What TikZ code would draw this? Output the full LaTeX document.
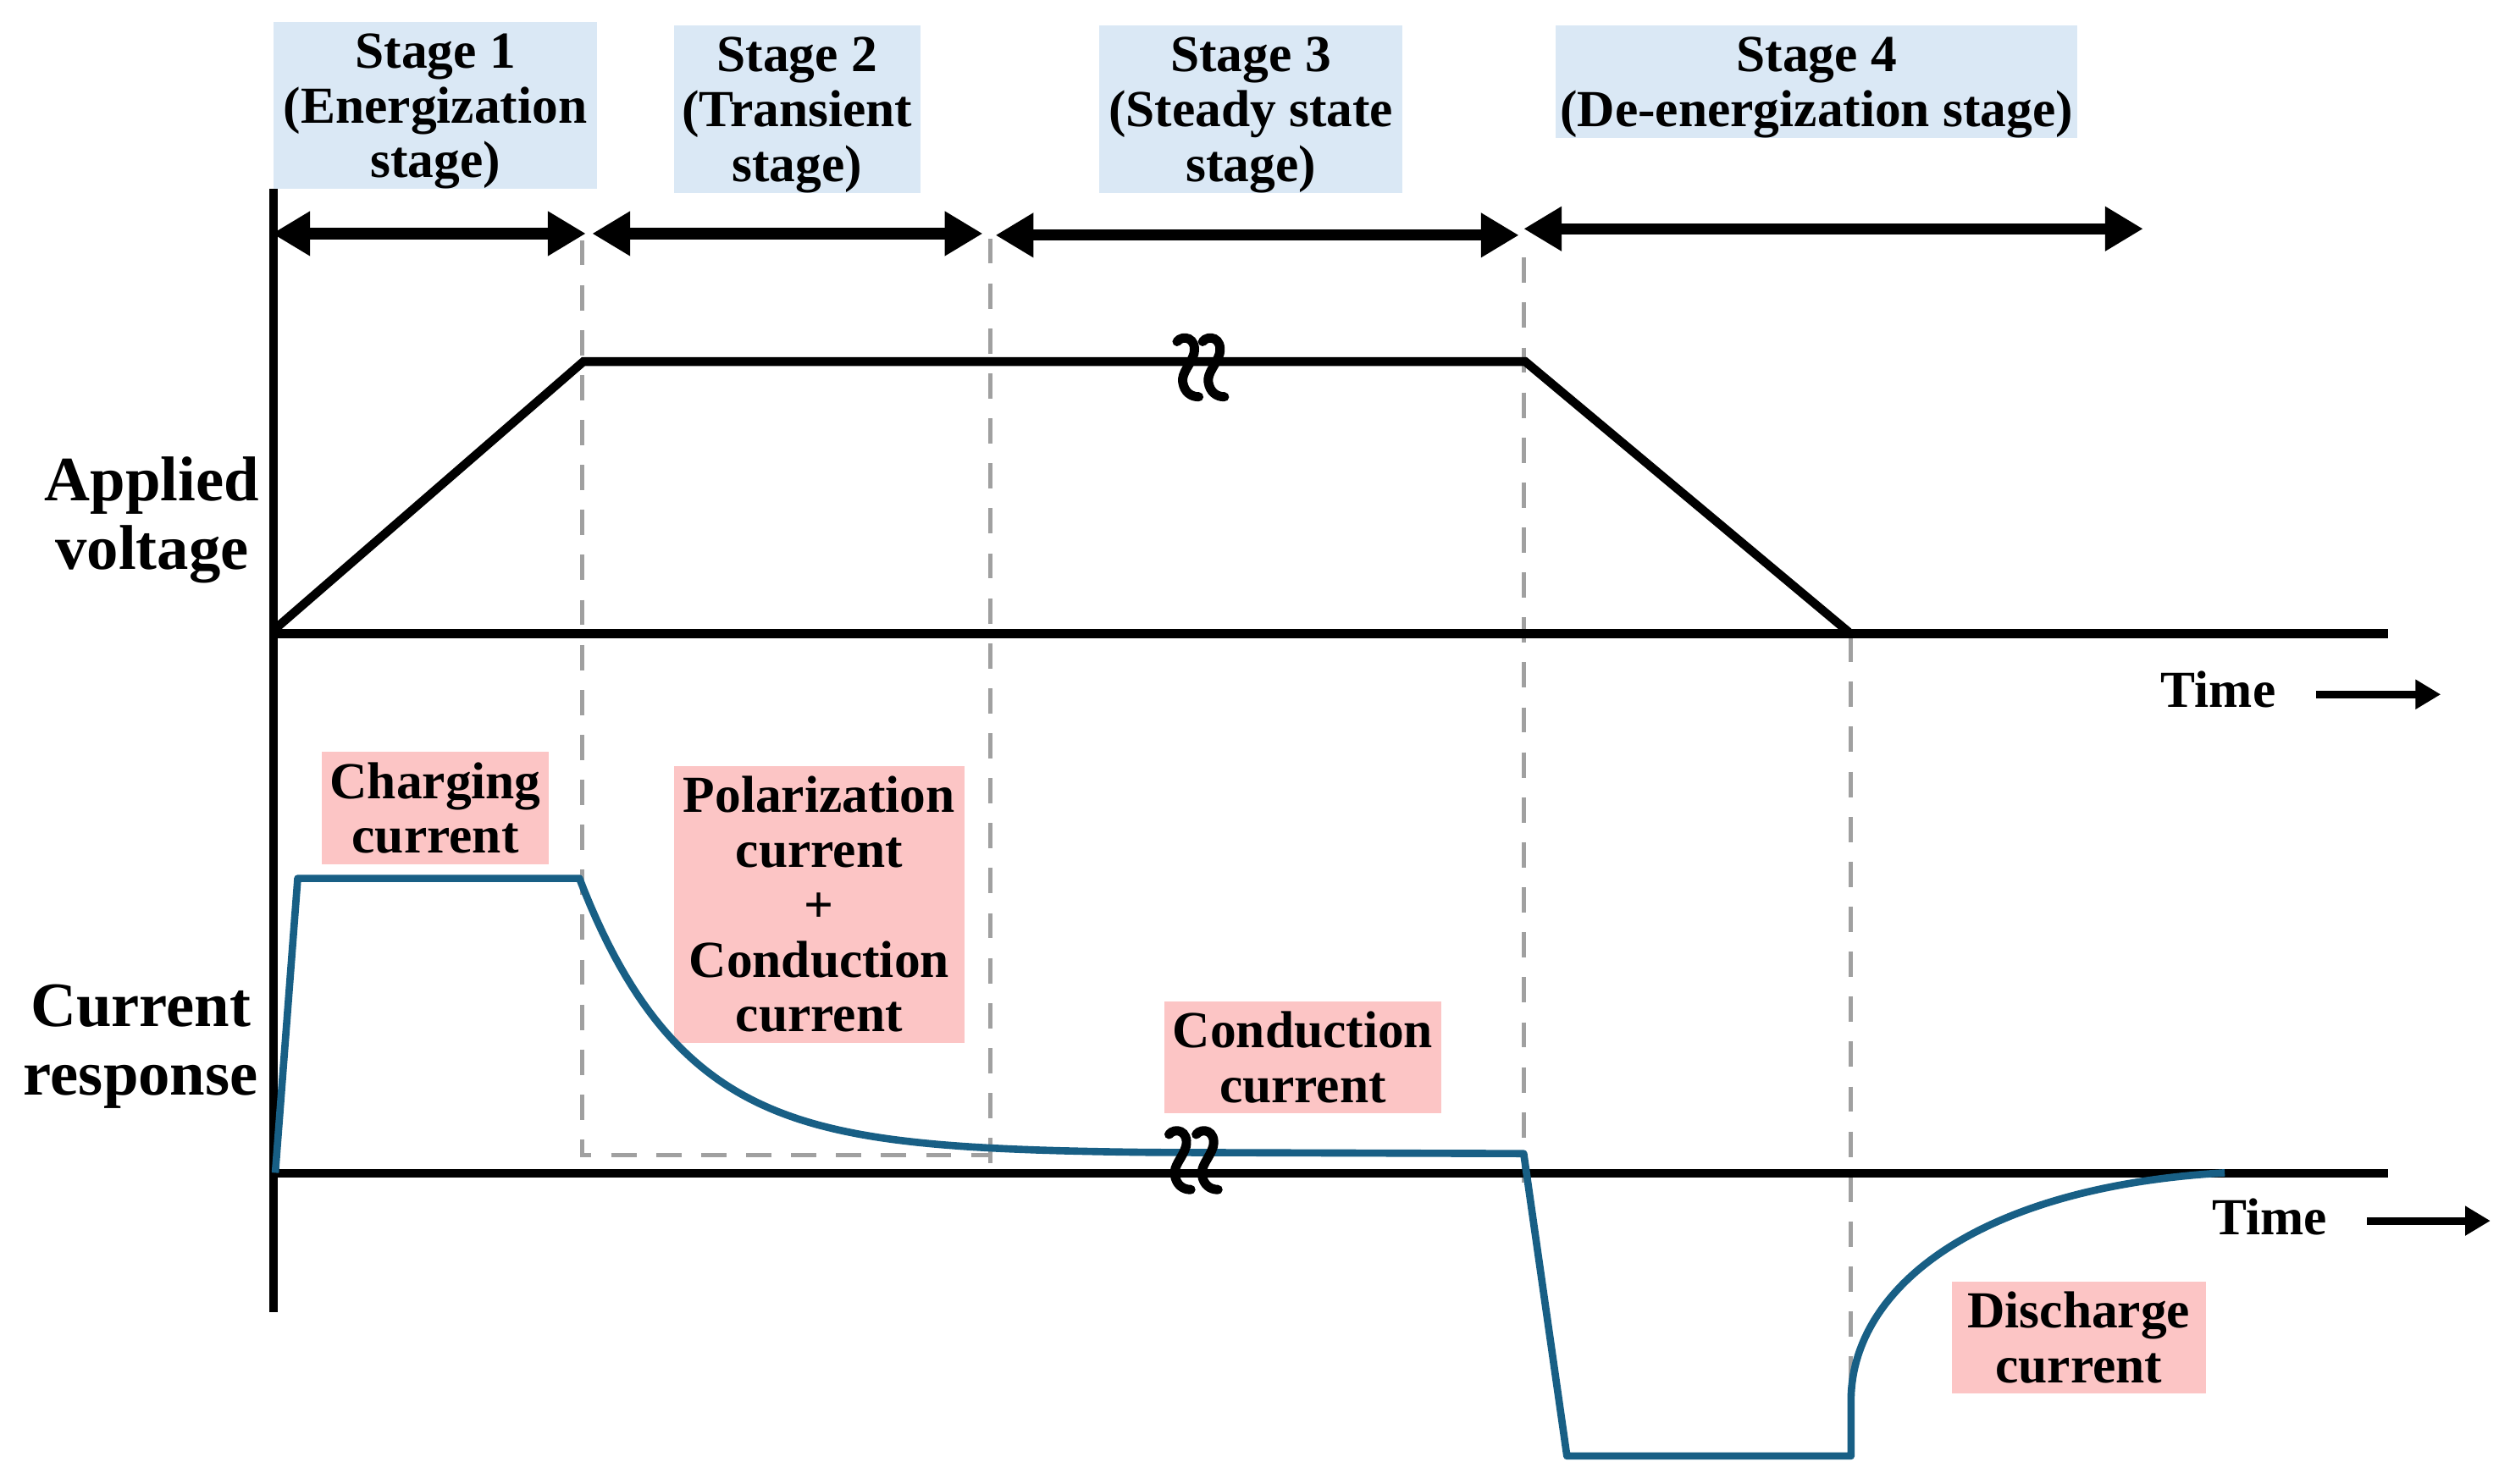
\documentclass[tikz,border=0pt]{standalone}
\usepackage{fontspec}
\setmainfont{Liberation Serif}
\usetikzlibrary{arrows.meta}
\definecolor{stageblue}{RGB}{218,232,245}
\definecolor{labelpink}{RGB}{252,197,197}
\definecolor{curblue}{RGB}{24,95,133}
\definecolor{dashgray}{RGB}{160,160,160}
\begin{document}
\begin{tikzpicture}[x=0.02cm,y=-0.02cm,
 boxtxt/.style={font=\fontsize{18.5}{19.5}\selectfont\bfseries, align=center, inner sep=0pt},
 stagebox/.style={boxtxt, fill=stageblue, text depth=0pt},
 pinkbox/.style={boxtxt, fill=labelpink},
 axislabel/.style={font=\fontsize{22.5}{24.6}\selectfont\bfseries, align=center, inner sep=0pt},
 blackline/.style={line width=3.1pt, black, line join=miter},
 curline/.style={line width=2.6pt, curblue, line join=round},
 guide/.style={line width=1.5pt, dashgray, dash pattern=on 9pt off 7pt},
 stagearrow/.style={line width=4pt, {Triangle[length=13.5pt,width=15pt]}-{Triangle[length=13.5pt,width=15pt]}},
 timearrow/.style={line width=2.7pt, -{Triangle[length=9pt,width=10pt]}},
 brk/.style={line width=3.3pt, black, line cap=round},
 brkglyph/.pic={\draw[brk] (-6.6,-15.5) .. controls (-3,-20) and (6,-18) .. (4,-8) .. controls (2,-1) and (-4,4) .. (-3,10) .. controls (-2,16) and (2,19) .. (7,19);}
]
\useasboundingbox (0,0) rectangle (1568.25,927.5);

% stage label boxes
\node[stagebox, minimum width=4.04cm, minimum height=2.08cm] (s1) at (272,66) {Stage 1\\(Energization\\stage)};
\node[stagebox, minimum width=3.08cm, minimum height=2.09cm] (s2) at (498,68.3) {Stage 2\\(Transient\\stage)};
\node[stagebox, minimum width=3.78cm, minimum height=2.09cm] (s3) at (781.5,68.3) {Stage 3\\(Steady state\\stage)};
\node[stagebox, minimum width=6.52cm, minimum height=1.40cm] (s4) at (1135,51) {Stage 4\\(De-energization stage)};

% current labels
\node[pinkbox, minimum width=2.83cm, minimum height=1.40cm] (ch) at (272,505) {Charging\\current};
\node[pinkbox, minimum width=3.63cm, minimum height=3.47cm] (pol) at (511.8,565.3) {Polarization\\current\\+\\Conduction\\current};
\node[pinkbox, minimum width=3.47cm, minimum height=1.40cm] (cond) at (814,660.8) {Conduction\\current};
\node[pinkbox, minimum width=3.17cm, minimum height=1.40cm] (dis) at (1298.8,836) {Discharge\\current};

% axis labels
\node[axislabel] (av) at (95,325) {Applied\\voltage};
\node[axislabel] (cr) at (88,654) {Current\\response};

% coordinates
\coordinate (axtop) at (171,118);
\coordinate (axbot) at (171,820);
\coordinate (vb0) at (171,396);
\coordinate (vb1) at (1492,396);
\coordinate (cb0) at (171,733.5);
\coordinate (cb1) at (1492,733.5);
\coordinate (v0) at (172,393);
\coordinate (v1) at (364.5,226);
\coordinate (v2) at (953,226);
\coordinate (v3) at (1155,395);

% dashed guides
\coordinate (g1a) at (363.5,150); \coordinate (g1b) at (363.5,722); \coordinate (g1c) at (619,722);
\coordinate (g2a) at (619,149); \coordinate (g2b) at (619,737);
\coordinate (g3a) at (952,161); \coordinate (g3b) at (952,743);
\coordinate (g4a) at (1156.5,398); \coordinate (g4b) at (1156.5,872);
\draw[guide] (g1a) -- (g1b) -- (g1c);
\draw[guide] (g2a) -- (g2b);
\draw[guide] (g3a) -- (g3b);
\draw[guide] (g4a) -- (g4b);

% axes
\draw[blackline] (axtop) -- (axbot);
\draw[blackline] (vb0) -- (vb1);
\draw[blackline] (cb0) -- (cb1);

% voltage
\draw[blackline] (v0) -- (v1) -- (v2) -- (v3);

% current
\coordinate (c0) at (172,733);
\coordinate (c1) at (186,549);
\coordinate (c2) at (362,549);
\coordinate (c3) at (952,721);
\coordinate (c4) at (979,910);
\coordinate (c5) at (1156.5,910);
\coordinate (c6) at (1156.5,875);
\coordinate (c7) at (1390,733);
\draw[curline] (c0) -- (c1) -- (c2) -- plot[domain=362:720,samples=100] (\x,{721-172*exp(-(\x-362)/66)}) -- (c3) -- (c4) -- (c5) -- (c6) .. controls (1157,805) and (1235,742) .. (c7);

% break marks
\pic at (742,229) {brkglyph};
\pic at (758,229) {brkglyph};
\pic at (737,724.5) {brkglyph};
\pic at (754,724.5) {brkglyph};

% stage arrows
\coordinate (a1l) at (170,146); \coordinate (a1r) at (366,146);
\coordinate (a2l) at (370,146); \coordinate (a2r) at (614,146);
\coordinate (a3l) at (622,147); \coordinate (a3r) at (949,147);
\coordinate (a4l) at (952,143); \coordinate (a4r) at (1339,143);
\draw[stagearrow] (a1l) -- (a1r);
\draw[stagearrow] (a2l) -- (a2r);
\draw[stagearrow] (a3l) -- (a3r);
\draw[stagearrow] (a4l) -- (a4r);

% time labels
\node[boxtxt] (t1) at (1386,431) {Time};
\node[boxtxt] (t2) at (1418,760.6) {Time};
\coordinate (t1a) at (1447,434); \coordinate (t1b) at (1525,434);
\coordinate (t2a) at (1479,763); \coordinate (t2b) at (1556,763);
\draw[timearrow] (t1a) -- (t1b);
\draw[timearrow] (t2a) -- (t2b);
\end{tikzpicture}
\end{document}
